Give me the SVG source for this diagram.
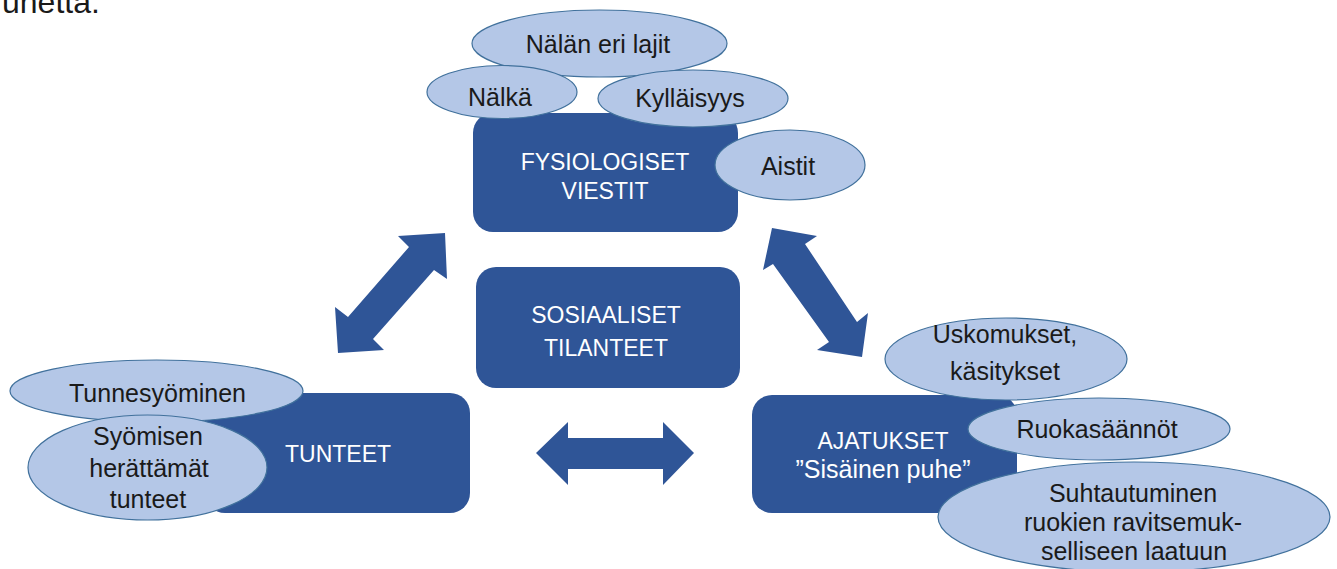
<svg xmlns="http://www.w3.org/2000/svg" width="1337" height="569" viewBox="0 0 1337 569">
<style>
.box{fill:#2F5597;}
.ell{fill:#B4C7E7;stroke:#41719C;stroke-width:1.2;}
.arrow{fill:#2F5597;}
.bt{font-family:"Liberation Sans",Arial,sans-serif;fill:#FFFFFF;text-anchor:middle;}
.caps{font-size:23px;}
.mix{font-size:25px;}
.et{font-family:"Liberation Sans",Arial,sans-serif;font-size:25px;fill:#1A1A1A;text-anchor:middle;}
</style>
<rect width="1337" height="569" fill="#FFFFFF"/>
<text x="2" y="13" font-family="Liberation Sans, Arial, sans-serif" font-size="32" fill="#1A1A1A">unetta.</text>

<g id="connectors">
<polygon class="arrow" points="445,233 447,279 434,270 373,339 384,350 338,353 335,307 348,317 409,247 398,236"/>
<polygon class="arrow" points="772,228 817,236 805,244 857,322 868,313 862,357 817,350 829,342 773,264 763,270"/>
<polygon class="arrow" points="536,453 568,422 568,438 663,438 663,422 694,453 663,485 663,469 568,469 568,485"/>
</g>

<g id="fysiologiset">
<rect class="box" x="473" y="113" width="265" height="119" rx="20"/>
<text class="bt caps" x="605" y="170">FYSIOLOGISET</text>
<text class="bt caps" x="605" y="199">VIESTIT</text>
</g>
<g id="nalan-eri-lajit">
<ellipse class="ell" cx="599.5" cy="43.5" rx="127.5" ry="33.5"/>
<text class="et" x="598" y="53">Nälän eri lajit</text>
</g>
<g id="nalka">
<ellipse class="ell" cx="502" cy="92" rx="75" ry="26.5"/>
<text class="et" x="500" y="106">Nälkä</text>
</g>
<g id="kyllaisyys">
<ellipse class="ell" cx="693" cy="98.5" rx="95" ry="28.5"/>
<text class="et" x="690" y="107">Kylläisyys</text>
</g>
<g id="aistit">
<ellipse class="ell" cx="790" cy="165" rx="75" ry="35"/>
<text class="et" x="788" y="175">Aistit</text>
</g>

<g id="sosiaaliset">
<rect class="box" x="476" y="267" width="264" height="121" rx="20"/>
<text class="bt caps" x="606" y="323">SOSIAALISET</text>
<text class="bt caps" x="606" y="356">TILANTEET</text>
</g>

<g id="tunteet">
<rect class="box" x="205" y="393" width="265" height="120" rx="20"/>
<text class="bt caps" x="338" y="462">TUNTEET</text>
</g>
<g id="tunnesyominen">
<ellipse class="ell" cx="156.5" cy="391" rx="146.5" ry="31"/>
<text class="et" x="157.5" y="402">Tunnesyöminen</text>
</g>
<g id="syomisen-herattamat-tunteet">
<ellipse class="ell" cx="147.5" cy="467.5" rx="119.5" ry="52.5"/>
<text class="et" x="148" y="445">Syömisen</text>
<text class="et" x="149" y="477">herättämät</text>
<text class="et" x="148" y="508">tunteet</text>
</g>

<g id="ajatukset">
<rect class="box" x="752" y="395" width="265" height="118" rx="20"/>
<text class="bt caps" x="883" y="449">AJATUKSET</text>
<text class="bt mix" x="883" y="478">”Sisäinen puhe”</text>
</g>
<g id="uskomukset">
<ellipse class="ell" cx="1006" cy="359" rx="121" ry="41"/>
<text class="et" x="1005" y="343">Uskomukset,</text>
<text class="et" x="1005" y="380">käsitykset</text>
</g>
<g id="ruokasaannot">
<ellipse class="ell" cx="1099" cy="429" rx="131" ry="31"/>
<text class="et" x="1097" y="438">Ruokasäännöt</text>
</g>
<g id="suhtautuminen">
<ellipse class="ell" cx="1134" cy="517" rx="196" ry="55"/>
<text class="et" x="1133" y="502">Suhtautuminen</text>
<text class="et" x="1133" y="531">ruokien ravitsemuk-</text>
<text class="et" x="1134" y="560">selliseen laatuun</text>
</g>
</svg>
